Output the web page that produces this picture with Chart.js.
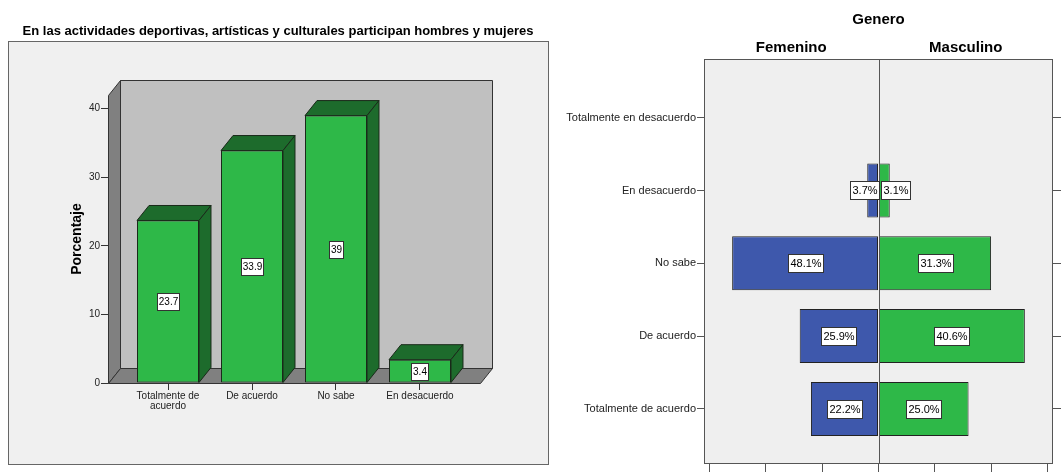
<!DOCTYPE html>
<html><head><meta charset="utf-8">
<script src="https://cdn.jsdelivr.net/npm/chart.js@4.4.1/dist/chart.umd.min.js"></script>
<style>
html,body{margin:0;padding:0;background:#fff;}
#wrap{position:relative;width:1061px;height:476px;overflow:hidden;background:#fff;}
#c1{position:absolute;left:0;top:0;}
#c2{position:absolute;left:556px;top:0;}
</style></head><body>
<div id="wrap"><canvas id="c1" width="556" height="476"></canvas><canvas id="c2" width="505" height="476"></canvas></div>
<script>
const FONT = "'Liberation Sans', Arial, Helvetica, sans-serif";

// ---- left chart data ----
const leftTitle = 'En las actividades deportivas, artísticas y culturales participan hombres y mujeres';
const leftCategories = [['Totalmente de', 'acuerdo'], 'De acuerdo', 'No sabe', 'En desacuerdo'];
const leftPercent = [23.7, 33.9, 39, 3.4];
const leftYTicks = [0, 10, 20, 30, 40];
const leftYTitle = 'Porcentaje';

// ---- right chart data (counts; labels are % within gender) ----
const pyramidTitle = 'Genero';
const pyramidGroups = ['Femenino', 'Masculino'];
const pyramidCategories = ['Totalmente en desacuerdo', 'En desacuerdo', 'No sabe', 'De acuerdo', 'Totalmente de acuerdo'];
const femaleCounts = [0, 1, 13, 7, 6];
const maleCounts = [0, 1, 10, 13, 8];
const femaleLabels = ['', '3.7%', '48.1%', '25.9%', '22.2%'];
const maleLabels = ['', '3.1%', '31.3%', '40.6%', '25.0%'];
const pyramidXTicks = [-15, -10, -5, 0, 5, 10, 15];

// ---- styles ----
const GREEN = '#2eb848', GREEN_DARK = '#1d6b2c', BLUE = '#3e58ac';
const DX = 12, DY = 15;

function poly(ctx, pts, fill, stroke) {
  ctx.beginPath();
  pts.forEach((p, i) => i ? ctx.lineTo(p[0], p[1]) : ctx.moveTo(p[0], p[1]));
  ctx.closePath();
  ctx.fillStyle = fill; ctx.fill();
  ctx.strokeStyle = stroke; ctx.lineWidth = 1; ctx.stroke();
}
function boxWidth(ctx, text, font, pad) { ctx.font = font; return Math.round(ctx.measureText(text).width + 2 * pad); }
function drawLabel(ctx, text, cx, cy, font, h, pad) {
  const w = boxWidth(ctx, text, font, pad);
  const x = Math.round(cx - w / 2) + 0.5, y = Math.round(cy - h / 2) + 0.5;
  ctx.fillStyle = '#fff'; ctx.fillRect(x, y, w, h);
  ctx.strokeStyle = '#333'; ctx.lineWidth = 1; ctx.strokeRect(x, y, w, h);
  ctx.fillStyle = '#000'; ctx.textAlign = 'center'; ctx.textBaseline = 'middle';
  ctx.fillText(text, x + w / 2, y + h / 2 + 0.5);
}

const threeD = {
  id: 'threeD',
  beforeDraw(chart) {
    const {ctx, chartArea: a} = chart;
    ctx.save();
    ctx.fillStyle = '#f0f0f0'; ctx.fillRect(8, 41, 541, 424);
    ctx.strokeStyle = '#666'; ctx.lineWidth = 1; ctx.strokeRect(8.5, 41.5, 540, 423);
    const L = Math.round(a.left) + 0.5, R = Math.round(a.right) + 0.5, T = Math.round(a.top) + 0.5, B = Math.round(a.bottom) + 0.5;
    poly(ctx, [[L + DX, T - DY], [R + DX, T - DY], [R + DX, B - DY], [L + DX, B - DY]], '#c0c0c0', '#333');
    poly(ctx, [[L, T], [L + DX, T - DY], [L + DX, B - DY], [L, B]], '#808080', '#333');
    poly(ctx, [[L, B], [L + DX, B - DY], [R + DX, B - DY], [R, B]], '#808080', '#333');
    ctx.restore();
  },
  afterDatasetsDraw(chart) {
    const ctx = chart.ctx;
    const meta = chart.getDatasetMeta(0);
    ctx.save();
    meta.data.forEach((bar, i) => {
      const {x, y, base, width} = bar.getProps(['x', 'y', 'base', 'width'], true);
      const l = x - width / 2, r = x + width / 2;
      poly(ctx, [[l, y], [l + DX, y - DY], [r + DX, y - DY], [r, y]], GREEN_DARK, '#1a2a1a');
      poly(ctx, [[r, y], [r + DX, y - DY], [r + DX, base - DY], [r, base]], GREEN_DARK, '#1a2a1a');
      drawLabel(ctx, String(leftPercent[i]), x, (y + base) / 2, '10px ' + FONT, 17, 1.5);
    });
    ctx.restore();
  }
};

new Chart(document.getElementById('c1'), {
  type: 'bar',
  data: {
    datasets: [{
      data: leftPercent.map((v, i) => ({x: i, y: v})),
      backgroundColor: GREEN, borderColor: '#1a2a1a', borderWidth: 1, borderSkipped: false,
      barPercentage: 0.738, categoryPercentage: 1
    }]
  },
  options: {
    responsive: false, animation: false, devicePixelRatio: 1,
    layout: {padding: 0},
    plugins: {
      legend: {display: false}, tooltip: {enabled: false},
      title: {display: true, text: leftTitle, color: '#000', font: {family: FONT, size: 13, weight: 'bold'}, padding: {top: 24, bottom: 55.4}}
    },
    scales: {
      x: {
        type: 'linear', offset: false, min: -0.7143, max: 3.7143,
        afterBuildTicks: s => { s.ticks = leftCategories.map((_, i) => ({value: i})); },
        afterFit: s => { s.height = 93; },
        grid: {display: true, drawOnChartArea: false, drawTicks: true, tickLength: 7, color: '#333', offset: false},
        border: {display: false},
        ticks: {callback: (v) => leftCategories[Math.round(v)], autoSkip: false, maxRotation: 0, minRotation: 0, padding: 1, color: '#222', font: {family: FONT, size: 10, lineHeight: 1.0}}
      },
      y: {
        type: 'linear', min: 0, max: 42,
        afterBuildTicks: s => { s.ticks = leftYTicks.map(v => ({value: v})); },
        afterFit: s => { s.width = 108; },
        grid: {display: true, drawOnChartArea: false, drawTicks: true, tickLength: 7, color: '#333', offset: false},
        border: {display: false},
        ticks: {padding: 1, color: '#222', font: {family: FONT, size: 10}},
        title: {display: true, text: leftYTitle, color: '#000', font: {family: FONT, size: 14, weight: 'bold'}, padding: {top: 68.6, bottom: 0}}
      },
      yr: {
        type: 'linear', position: 'right', min: 0, max: 42,
        afterFit: s => { s.width = 76; },
        grid: {display: false, drawTicks: false}, border: {display: false}, ticks: {display: false}
      }
    }
  },
  plugins: [threeD]
});

const pyramidDeco = {
  id: 'pyramidDeco',
  beforeDraw(chart) {
    const {ctx, chartArea: a} = chart;
    ctx.save();
    ctx.fillStyle = '#efefef';
    ctx.fillRect(a.left, a.top, a.right - a.left, a.bottom - a.top);
    ctx.strokeStyle = '#555'; ctx.lineWidth = 1;
    ctx.strokeRect(Math.round(a.left) + 0.5, Math.round(a.top) + 0.5, Math.round(a.right - a.left) - 1, Math.round(a.bottom - a.top) - 1);
    ctx.restore();
  },
  afterDatasetsDraw(chart) {
    const {ctx, chartArea: a, scales} = chart;
    const x0 = Math.round(scales.x.getPixelForValue(0)) + 0.5;
    ctx.save();
    ctx.strokeStyle = '#555'; ctx.lineWidth = 1;
    ctx.beginPath(); ctx.moveTo(x0, a.top); ctx.lineTo(x0, a.bottom); ctx.stroke();
    const font = '11px ' + FONT;
    [femaleLabels, maleLabels].forEach((labels, d) => {
      chart.getDatasetMeta(d).data.forEach((bar, i) => {
        const t = labels[i];
        if (!t) return;
        const {x, y, base} = bar.getProps(['x', 'y', 'base'], true);
        const w = boxWidth(ctx, t, font, 2);
        let cx = (x + base) / 2;
        if (d === 0) cx = Math.min(cx, x0 - 1 - w / 2);
        else cx = Math.max(cx, x0 + 1 + w / 2);
        drawLabel(ctx, t, cx, y, font, 18, 2);
      });
    });
    ctx.restore();
  }
};

const yMin = -0.806, yMax = 4.757;
new Chart(document.getElementById('c2'), {
  type: 'bar',
  data: {
    datasets: [
      {label: pyramidGroups[0], data: femaleCounts.map((v, i) => ({x: -v, y: i})), backgroundColor: BLUE, borderColor: '#222', borderWidth: 1, borderSkipped: false, grouped: false, barPercentage: 0.742, categoryPercentage: 1},
      {label: pyramidGroups[1], data: maleCounts.map((v, i) => ({x: v, y: i})), backgroundColor: GREEN, borderColor: '#222', borderWidth: 1, borderSkipped: false, grouped: false, barPercentage: 0.742, categoryPercentage: 1}
    ]
  },
  options: {
    indexAxis: 'y',
    responsive: false, animation: false, devicePixelRatio: 1,
    layout: {padding: 0},
    plugins: {legend: {display: false}, tooltip: {enabled: false}, title: {display: false}},
    scales: {
      x: {
        type: 'linear', position: 'bottom', min: -15.5, max: 15.5, offset: false,
        afterBuildTicks: s => { s.ticks = pyramidXTicks.map(v => ({value: v})); },
        afterFit: s => { s.height = 12; },
        grid: {display: true, drawOnChartArea: false, drawTicks: true, tickLength: 8, color: '#555', offset: false},
        border: {display: false},
        ticks: {display: false, callback: v => String(Math.abs(v))}
      },
      x2: {
        type: 'linear', position: 'top', min: -15.5, max: 15.5, offset: false,
        afterBuildTicks: s => { s.ticks = pyramidGroups.map((_, i) => ({value: (i === 0 ? -1 : 1) * 15.5 / 2})); },
        afterFit: s => { s.height = 59; },
        grid: {display: false, drawTicks: false}, border: {display: false},
        ticks: {callback: (v) => pyramidGroups[v < 0 ? 0 : 1], autoSkip: false, maxRotation: 0, padding: 2, color: '#000', font: {family: FONT, size: 15, weight: 'bold'}},
        title: {display: true, text: pyramidTitle, color: '#000', font: {family: FONT, size: 15, weight: 'bold'}, padding: {top: 10.5, bottom: 0}}
      },
      y: {
        type: 'linear', position: 'left', reverse: true, min: yMin, max: yMax, offset: false,
        afterBuildTicks: s => { s.ticks = pyramidCategories.map((_, i) => ({value: i})); },
        afterFit: s => { s.width = 148; },
        grid: {display: true, drawOnChartArea: false, drawTicks: true, tickLength: 7, color: '#555', offset: false},
        border: {display: false},
        ticks: {callback: (v) => pyramidCategories[Math.round(v)], autoSkip: false, padding: 1, color: '#222', font: {family: FONT, size: 11}}
      },
      y2: {
        type: 'linear', position: 'right', reverse: true, min: yMin, max: yMax, offset: false,
        afterBuildTicks: s => { s.ticks = pyramidCategories.map((_, i) => ({value: i})); },
        afterFit: s => { s.width = 8; },
        grid: {display: true, drawOnChartArea: false, drawTicks: true, tickLength: 8, color: '#555', offset: false},
        border: {display: false},
        ticks: {display: false}
      }
    }
  },
  plugins: [pyramidDeco]
});
</script>
</body></html>
